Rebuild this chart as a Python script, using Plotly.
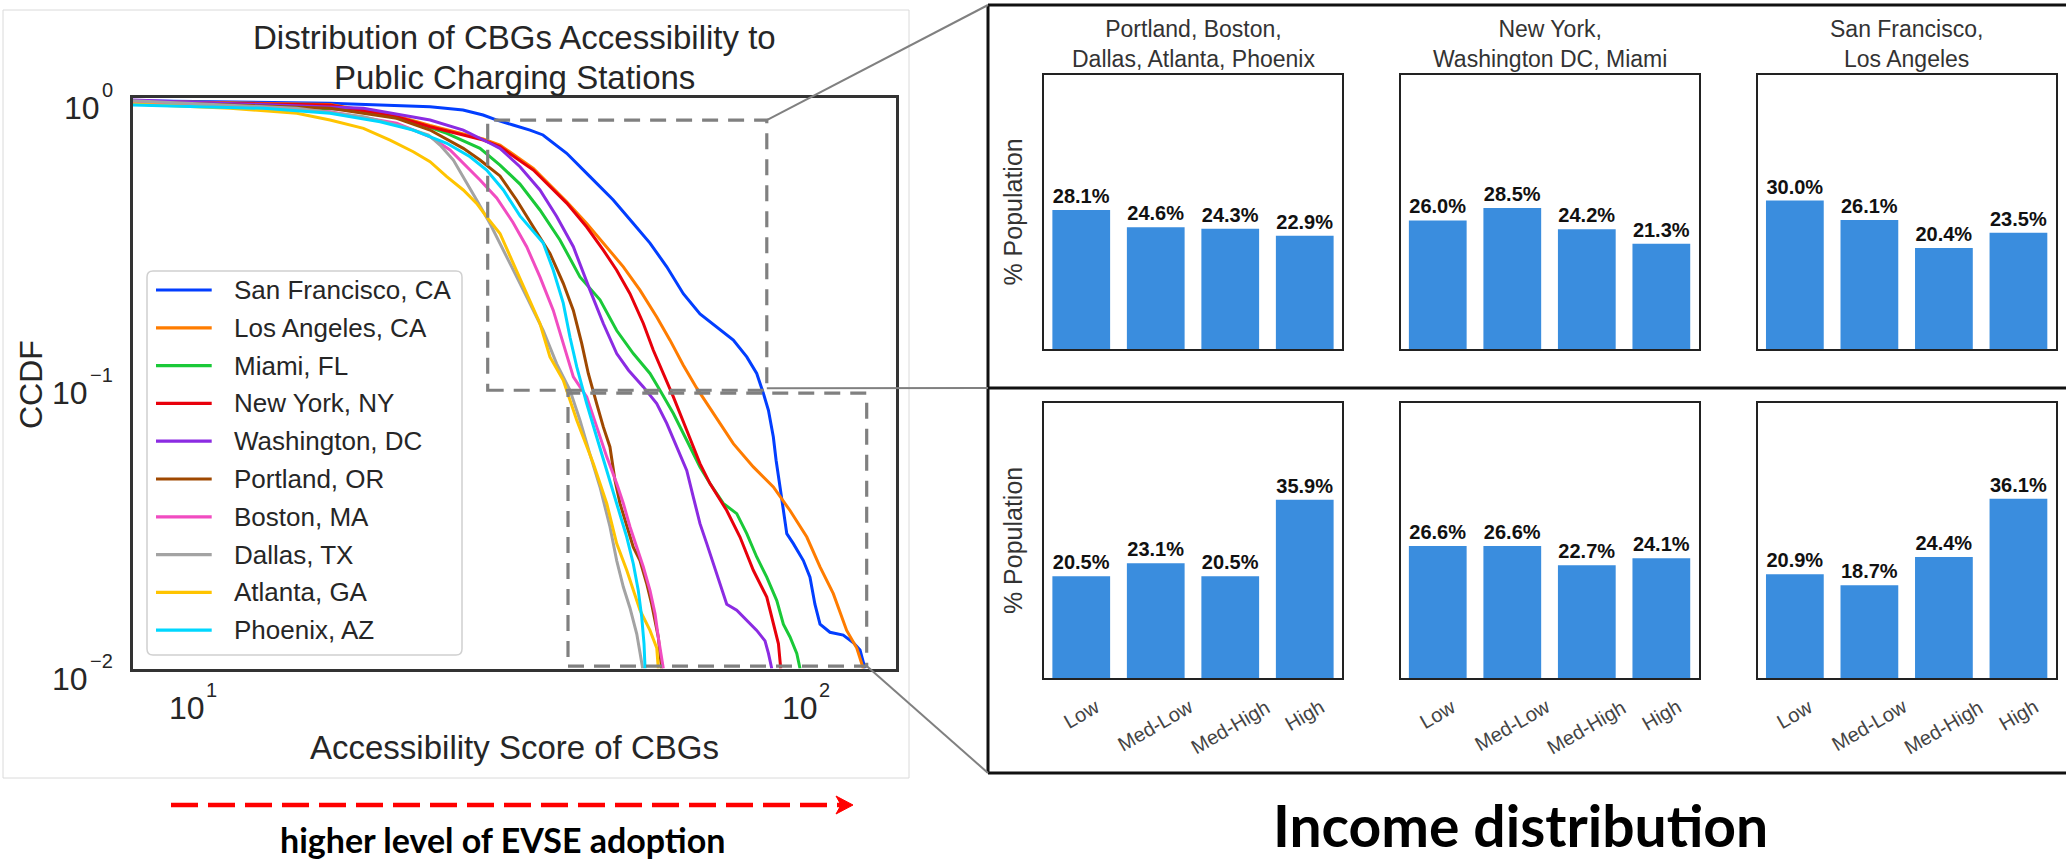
import math
import plotly.graph_objects as go

W, H = 2066, 862
SANS = "Liberation Sans, Arial, Helvetica, sans-serif"
HEAVY = "Lato, Carlito, Calibri, sans-serif"
INK = "#262626"

# ---------------- CCDF of CBG accessibility scores ----------------
cities = ["San Francisco, CA", "Los Angeles, CA", "Miami, FL", "New York, NY",
          "Washington, DC", "Portland, OR", "Boston, MA", "Dallas, TX",
          "Atlanta, GA", "Phoenix, AZ"]
city_colors = ["#023eff", "#ff7c00", "#1ac938", "#e8000b", "#8b2be2",
               "#9f4800", "#f14cc1", "#a3a3a3", "#ffc400", "#00d7ff"]

sf_score = [7.98, 16.73, 24.36, 27.57, 29.73, 31.32, 33.27, 35.46, 37.23, 40.70,
            44.42, 48.48, 52.27, 55.65, 59.27, 63.07, 67.15, 71.51, 76.11, 80.05,
            83.10, 85.19, 86.84, 88.45, 89.37, 90.70, 91.84, 93.03, 95.36, 99.00,
            101.5, 103.4, 105.4, 109.4, 115.0, 119.5, 122.5, 124.8]
sf_ccdf = [0.979, 0.958, 0.932, 0.908, 0.872, 0.837, 0.804, 0.772, 0.742, 0.640,
           0.530, 0.439, 0.363, 0.310, 0.256, 0.206, 0.175, 0.157, 0.1416, 0.1237,
           0.1082, 0.0923, 0.0804, 0.0648, 0.0537, 0.0433, 0.0358, 0.0297, 0.0274, 0.0239,
           0.0209, 0.0168, 0.0143, 0.0134, 0.0131, 0.0123, 0.0116, 0.0100]

la_score = [7.98, 16.73, 21.49, 24.36, 29.73, 31.68, 35.91, 40.70, 43.88, 47.31,
            50.35, 53.60, 57.08, 60.00, 63.07, 66.34, 70.60, 76.11, 82.04, 88.45,
            94.17, 100.3, 105.4, 110.8, 116.5, 121.0, 124.0]
la_ccdf = [0.976, 0.949, 0.865, 0.801, 0.718, 0.684, 0.567, 0.433, 0.363, 0.301,
           0.256, 0.212, 0.1708, 0.1416, 0.1157, 0.0961, 0.0783, 0.0614, 0.0509, 0.0433,
           0.0358, 0.0289, 0.0227, 0.0183, 0.0136, 0.0118, 0.0100]

miami_score = [7.98, 18.97, 22.87, 25.94, 29.39, 31.68, 34.15, 36.81, 39.68, 42.78,
               46.12, 49.11, 52.27, 55.65, 57.78, 60.76, 63.89, 67.15, 69.72, 73.30,
               77.09, 80.05, 83.10, 86.29, 89.60, 91.84, 94.17, 96.59, 97.77]
miami_ccdf = [0.970, 0.908, 0.826, 0.752, 0.666, 0.582, 0.499, 0.405, 0.318, 0.236,
              0.196, 0.153, 0.1271, 0.1082, 0.0945, 0.0783, 0.0631, 0.0509, 0.0445, 0.0379,
              0.0349, 0.0297, 0.0246, 0.0209, 0.0173, 0.0143, 0.0129, 0.0113, 0.0100]

ny_score = [7.98, 16.73, 21.49, 24.36, 27.60, 29.76, 31.68, 35.91, 40.70, 43.88,
            46.70, 49.11, 51.62, 54.28, 56.35, 58.51, 60.76, 63.89, 67.15, 69.72,
            74.25, 78.04, 82.04, 86.29, 88.45, 90.16, 90.94]
ny_ccdf = [0.970, 0.945, 0.860, 0.793, 0.742, 0.712, 0.675, 0.559, 0.428, 0.353,
           0.293, 0.249, 0.206, 0.162, 0.1305, 0.1082, 0.0896, 0.0684, 0.0523, 0.0445,
           0.0358, 0.0289, 0.0221, 0.0178, 0.0143, 0.0122, 0.0100]

dc_score = [7.98, 18.97, 24.36, 27.60, 30.51, 31.68, 34.15, 36.81, 39.20, 41.73,
            44.42, 46.70, 49.11, 51.34, 54.28, 57.08, 59.27, 61.54, 63.89, 65.49,
            67.15, 68.88, 70.60, 72.39, 74.25, 77.09, 80.05, 83.10, 85.73, 86.84,
            87.92]
dc_ccdf = [0.984, 0.920, 0.837, 0.772, 0.694, 0.666, 0.574, 0.476, 0.384, 0.301,
           0.212, 0.162, 0.1271, 0.1111, 0.0971, 0.0849, 0.0723, 0.0598, 0.0495, 0.0399,
           0.0322, 0.0274, 0.0233, 0.0199, 0.0168, 0.0160, 0.0147, 0.0136, 0.0125, 0.0113,
           0.0100]

portland_score = [7.98, 16.73, 21.49, 24.36, 27.60, 29.39, 31.68, 33.72, 35.91, 38.22,
                  40.18, 41.73, 43.06, 44.14, 45.55, 46.70, 47.88, 48.79, 49.72, 51.00,
                  52.27, 53.60, 54.95, 56.01, 56.71, 57.41, 57.78, 58.15]
portland_ccdf = [0.970, 0.920, 0.849, 0.772, 0.666, 0.606, 0.533, 0.439, 0.353, 0.285,
                 0.224, 0.180, 0.1379, 0.1082, 0.0849, 0.0703, 0.0598, 0.0457, 0.0379, 0.0314,
                 0.0266, 0.0239, 0.0199, 0.0168, 0.0147, 0.0129, 0.0113, 0.0100]

boston_score = [7.98, 16.73, 21.49, 24.36, 26.26, 27.60, 29.39, 31.29, 33.25, 35.02,
                36.81, 38.70, 40.18, 41.73, 43.88, 45.55, 47.31, 49.11, 50.35, 51.62,
                52.96, 54.28, 55.65, 56.71, 57.41, 58.15, 58.51]
boston_ccdf = [0.962, 0.895, 0.816, 0.731, 0.657, 0.590, 0.516, 0.446, 0.367, 0.301,
               0.236, 0.180, 0.1379, 0.1053, 0.0896, 0.0703, 0.0552, 0.0445, 0.0379, 0.0314,
               0.0266, 0.0227, 0.0188, 0.0156, 0.0129, 0.0110, 0.0100]

dallas_score = [7.98, 14.76, 18.97, 22.03, 24.22, 25.29, 26.59, 27.60, 29.02, 30.51,
                31.68, 33.31, 35.02, 37.27, 39.20, 41.21, 42.78, 44.42, 46.12, 47.88,
                49.11, 50.35, 51.62, 52.96, 53.60, 54.15]
dallas_ccdf = [0.979, 0.920, 0.860, 0.793, 0.742, 0.684, 0.606, 0.530, 0.439, 0.363,
               0.310, 0.249, 0.201, 0.153, 0.1170, 0.0945, 0.0742, 0.0563, 0.0433, 0.0314,
               0.0239, 0.0193, 0.0163, 0.0132, 0.0113, 0.0100]

atlanta_score = [7.98, 11.49, 14.77, 16.73, 18.97, 20.96, 22.87, 24.36, 25.94, 27.60,
                 29.02, 30.13, 31.68, 33.31, 35.02, 36.81, 38.22, 40.18, 42.27, 44.98,
                 47.31, 49.11, 51.00, 53.60, 55.65, 57.08, 57.41]
atlanta_ccdf = [0.953, 0.920, 0.884, 0.837, 0.783, 0.712, 0.648, 0.598, 0.530, 0.476,
                0.427, 0.383, 0.335, 0.262, 0.206, 0.162, 0.1237, 0.1024, 0.0742, 0.0523,
                0.0379, 0.0274, 0.0221, 0.0160, 0.0136, 0.0118, 0.0100]

phoenix_score = [7.98, 13.03, 16.73, 20.19, 22.87, 25.94, 28.31, 30.13, 32.08, 34.15,
                 37.27, 38.70, 40.18, 41.21, 42.27, 43.88, 45.55, 47.31, 49.11, 51.00,
                 52.27, 53.25, 53.94, 54.42, 54.63]
phoenix_ccdf = [0.945, 0.920, 0.884, 0.826, 0.772, 0.694, 0.622, 0.559, 0.476, 0.386,
                0.310, 0.249, 0.191, 0.145, 0.1141, 0.0849, 0.0648, 0.0495, 0.0379, 0.0289,
                0.0233, 0.0188, 0.0152, 0.0122, 0.0100]

curve_scores = [sf_score, la_score, miami_score, ny_score, dc_score,
                portland_score, boston_score, dallas_score, atlanta_score, phoenix_score]
curve_ccdf = [sf_ccdf, la_ccdf, miami_ccdf, ny_ccdf, dc_ccdf,
              portland_ccdf, boston_ccdf, dallas_ccdf, atlanta_ccdf, phoenix_ccdf]

# axis ticks of the CCDF (value, exponent shown as superscript)
score_ticks = [10, 100]
score_tick_exp = ["1", "2"]
ccdf_ticks = [1, 0.1, 0.01]
ccdf_tick_exp = ["0", "\u22121", "\u22122"]

# Highlighted windows of the CCDF (score span, ccdf span)
upper_window = ((30.25, 86.3), (0.0945, 0.837))
lower_window = ((40.9, 125.6), (0.0102, 0.0923))

# ---------------- income distribution inside each window ----------------
income_levels = ["Low", "Med-Low", "Med-High", "High"]
group_names = ["Portland, Boston,<br>Dallas, Atlanta, Phoenix",
               "New York,<br>Washington DC, Miami",
               "San Francisco,<br>Los Angeles"]
upper_window_income = [[28.1, 24.6, 24.3, 22.9],
                       [26.0, 28.5, 24.2, 21.3],
                       [30.0, 26.1, 20.4, 23.5]]
lower_window_income = [[20.5, 23.1, 20.5, 35.9],
                       [26.6, 26.6, 22.7, 24.1],
                       [20.9, 18.7, 24.4, 36.1]]

# ---------------- page geometry (pixels) ----------------
CCDF_BOX = (133, 98, 896, 668.5)          # left, top, right, bottom
X_RANGE = (0.9021, 2.1468)                # log10 of score limits
Y_RANGE = (-2.0, 0.0)                     # log10 of ccdf limits
PANEL_COLS = [(1044, 1342), (1400.5, 1698.6), (1757.6, 2055.7)]
PANEL_ROWS = [(75, 349), (403, 678)]
BAR_YMAX = 55.4
FRAME = (988, 5, 2066, 773, 388)          # left, top, right, bottom, divider


def fx(p):
    return p / W


def fy(p):
    return 1 - p / H


def to_px(score, ccdf):
    l, t, r, b = CCDF_BOX
    x = l + (math.log10(score) - X_RANGE[0]) / (X_RANGE[1] - X_RANGE[0]) * (r - l)
    y = b - (math.log10(ccdf) - Y_RANGE[0]) / (Y_RANGE[1] - Y_RANGE[0]) * (b - t)
    return x, y


def label(x, y, text, size, color=INK, family=SANS, xa="center", ya="middle", angle=0, **kw):
    return dict(x=fx(x), y=fy(y), xref="paper", yref="paper", text=text, showarrow=False,
                xanchor=xa, yanchor=ya, textangle=angle,
                font=dict(family=family, size=size, color=color, **kw))


fig = go.Figure()

for name, color, xs, ys in zip(cities, city_colors, curve_scores, curve_ccdf):
    fig.add_trace(go.Scatter(x=xs, y=ys, mode="lines", name=name,
                             line=dict(color=color, width=3),
                             xaxis="x", yaxis="y", showlegend=False,
                             hoverinfo="name+x+y"))

axis_common = dict(showgrid=False, zeroline=False, showline=True, mirror=True,
                   linecolor="#333333", linewidth=2.5, ticks="", showticklabels=False)

layout_axes = {}
layout_axes["xaxis"] = dict(axis_common, type="log", range=list(X_RANGE),
                            domain=[fx(CCDF_BOX[0]), fx(CCDF_BOX[2])], anchor="y",
                            tickvals=score_ticks)
layout_axes["yaxis"] = dict(axis_common, type="log", range=list(Y_RANGE),
                            domain=[fy(CCDF_BOX[3]), fy(CCDF_BOX[1])], anchor="x",
                            tickvals=ccdf_ticks)

annotations = []
shapes = []

# power-of-ten tick labels, placed from the axis scale
for v, e in zip(score_ticks, score_tick_exp):
    tx, _ = to_px(v, 1)
    annotations.append(label(tx - 6, CCDF_BOX[3] + 39.5, "10", 32))
    annotations.append(label(tx + 18.5, CCDF_BOX[3] + 21.5, e, 20))
for v, e in zip(ccdf_ticks, ccdf_tick_exp):
    _, ty = to_px(8, v)
    sup_w = 11.5 if len(e) == 1 else 23.5
    annotations.append(label(115, ty - 8, e, 20, xa="right"))
    annotations.append(label(115 - sup_w - 1.5, ty + 10, "10", 32, xa="right"))

# bar panels
for r, (rows_vals, (top, bottom)) in enumerate(zip([upper_window_income, lower_window_income], PANEL_ROWS)):
    for c, (left, right) in enumerate(PANEL_COLS):
        k = 2 + r * 3 + c
        vals = rows_vals[c]
        fig.add_trace(go.Bar(
            x=income_levels, y=vals, xaxis=f"x{k}", yaxis=f"y{k}",
            width=0.775, marker=dict(color="#3a8dde", line=dict(width=0)),
            text=[f"{v:.1f}%" for v in vals], textposition="outside",
            constraintext="none", cliponaxis=False,
            textfont=dict(family=SANS, size=20, color="#111111", weight="bold"),
            showlegend=False, hoverinfo="x+y"))
        panel_axis = dict(showgrid=False, zeroline=False, showline=True, mirror=True,
                          linecolor="#222222", linewidth=2, ticks="", showticklabels=False)
        layout_axes[f"xaxis{k}"] = dict(panel_axis, type="category", range=[-0.5, 3.5],
                                        domain=[fx(left), fx(right)], anchor=f"y{k}")
        layout_axes[f"yaxis{k}"] = dict(panel_axis, range=[0, BAR_YMAX],
                                        domain=[fy(bottom), fy(top)], anchor=f"x{k}")
        if r == 1:
            drop = [36, 47, 49, 37]
            for i, lvl in enumerate(income_levels):
                annotations.append(dict(
                    x=i, xref=f"x{k}", y=fy(bottom + drop[i]), yref="paper",
                    text=lvl, showarrow=False, textangle=-30,
                    xanchor="center", yanchor="middle",
                    font=dict(family=SANS, size=20, color="#444444")))
        if c == 0:
            annotations.append(label(1012.6, (top + bottom) / 2, "% Population", 25,
                                     color="#333333", angle=-90))

# group titles above the top row
for txt, (left, right) in zip(group_names, PANEL_COLS):
    annotations.append(label((left + right) / 2, 43.5, txt, 23, color="#333333"))

# CCDF title and axis titles
annotations.append(label(514, 37, "Distribution of CBGs Accessibility to", 33))
annotations.append(label(514, 77, "Public Charging Stations", 33))
annotations.append(label(514, 747, "Accessibility Score of CBGs", 33))
annotations.append(label(31, 385, "CCDF", 32, angle=-90))

# legend drawn as a framed box
lg_l, lg_t, lg_r, lg_b, rad = 147, 271, 462, 655, 6
shapes.append(dict(
    type="path", xref="paper", yref="paper", layer="above",
    path=(f"M {fx(lg_l + rad)},{fy(lg_t)} L {fx(lg_r - rad)},{fy(lg_t)} "
          f"Q {fx(lg_r)},{fy(lg_t)} {fx(lg_r)},{fy(lg_t + rad)} "
          f"L {fx(lg_r)},{fy(lg_b - rad)} Q {fx(lg_r)},{fy(lg_b)} {fx(lg_r - rad)},{fy(lg_b)} "
          f"L {fx(lg_l + rad)},{fy(lg_b)} Q {fx(lg_l)},{fy(lg_b)} {fx(lg_l)},{fy(lg_b - rad)} "
          f"L {fx(lg_l)},{fy(lg_t + rad)} Q {fx(lg_l)},{fy(lg_t)} {fx(lg_l + rad)},{fy(lg_t)} Z"),
    line=dict(color="#d0d0d0", width=1.5), fillcolor="rgba(255,255,255,0.85)"))
for i, (name, color) in enumerate(zip(cities, city_colors)):
    yc = 290 + 37.8 * i
    shapes.append(dict(type="line", xref="paper", yref="paper", layer="above",
                       x0=fx(156), x1=fx(211.7), y0=fy(yc), y1=fy(yc),
                       line=dict(color=color, width=3.2)))
    annotations.append(label(231.7, yc, name, 26, xa="left"))

# faint outline around the CCDF figure
shapes.append(dict(type="rect", xref="paper", yref="paper", layer="below",
                   x0=fx(3), x1=fx(909), y0=fy(10), y1=fy(778),
                   line=dict(color="#dadada", width=1)))

# dashed windows on the CCDF
for (sx, cy) in (upper_window, lower_window):
    shapes.append(dict(type="rect", xref="x", yref="y", layer="above",
                       x0=sx[0], x1=sx[1], y0=cy[0], y1=cy[1],
                       line=dict(color="#808080", width=3.2, dash="16px,10px")))

# frame of the income panels
fl, ft, fr, fb, fd = FRAME
for x0, y0, x1, y1 in ((fl, ft, fr, ft), (fl, fd, fr, fd), (fl, fb, fr, fb), (fl, ft, fl, fb)):
    shapes.append(dict(type="line", xref="paper", yref="paper", layer="above",
                       x0=fx(x0), y0=fy(y0), x1=fx(x1), y1=fy(y1),
                       line=dict(color="#111111", width=3)))

# connectors from the windows to the panels
ux, uy = to_px(upper_window[0][1], upper_window[1][1])
bx, by = to_px(upper_window[0][1], upper_window[1][0])
lx, ly = to_px(lower_window[0][1], lower_window[1][0])
for x0, y0, x1, y1 in ((ux, uy, fl, ft), (bx, by - 2, fl, fd), (lx, ly, fl, fb)):
    shapes.append(dict(type="line", xref="paper", yref="paper", layer="above",
                       x0=fx(x0), y0=fy(y0), x1=fx(x1), y1=fy(y1),
                       line=dict(color="#808080", width=2)))

# direction arrow under the CCDF
shapes.append(dict(type="line", xref="paper", yref="paper",
                   x0=fx(171), x1=fx(842), y0=fy(805), y1=fy(805),
                   line=dict(color="#ff0000", width=4.5, dash="27px,10px")))
shapes.append(dict(type="path", xref="paper", yref="paper", fillcolor="#ff0000",
                   line=dict(color="#ff0000", width=1),
                   path=(f"M {fx(853)},{fy(805)} L {fx(836)},{fy(796)} L {fx(841)},{fy(805)} "
                         f"L {fx(836)},{fy(814)} Z")))
annotations.append(label(502, 839, "higher level of EVSE adoption", 34,
                         color="#000000", family=HEAVY, weight="bold"))
annotations.append(label(1520, 861, "Income distribution", 57,
                         color="#000000", family=HEAVY, ya="bottom", weight="bold"))

fig.update_layout(
    width=W, height=H, margin=dict(l=0, r=0, t=0, b=0),
    paper_bgcolor="white", plot_bgcolor="white", showlegend=False,
    annotations=annotations, shapes=shapes, **layout_axes)

fig.write_html("out.html")
